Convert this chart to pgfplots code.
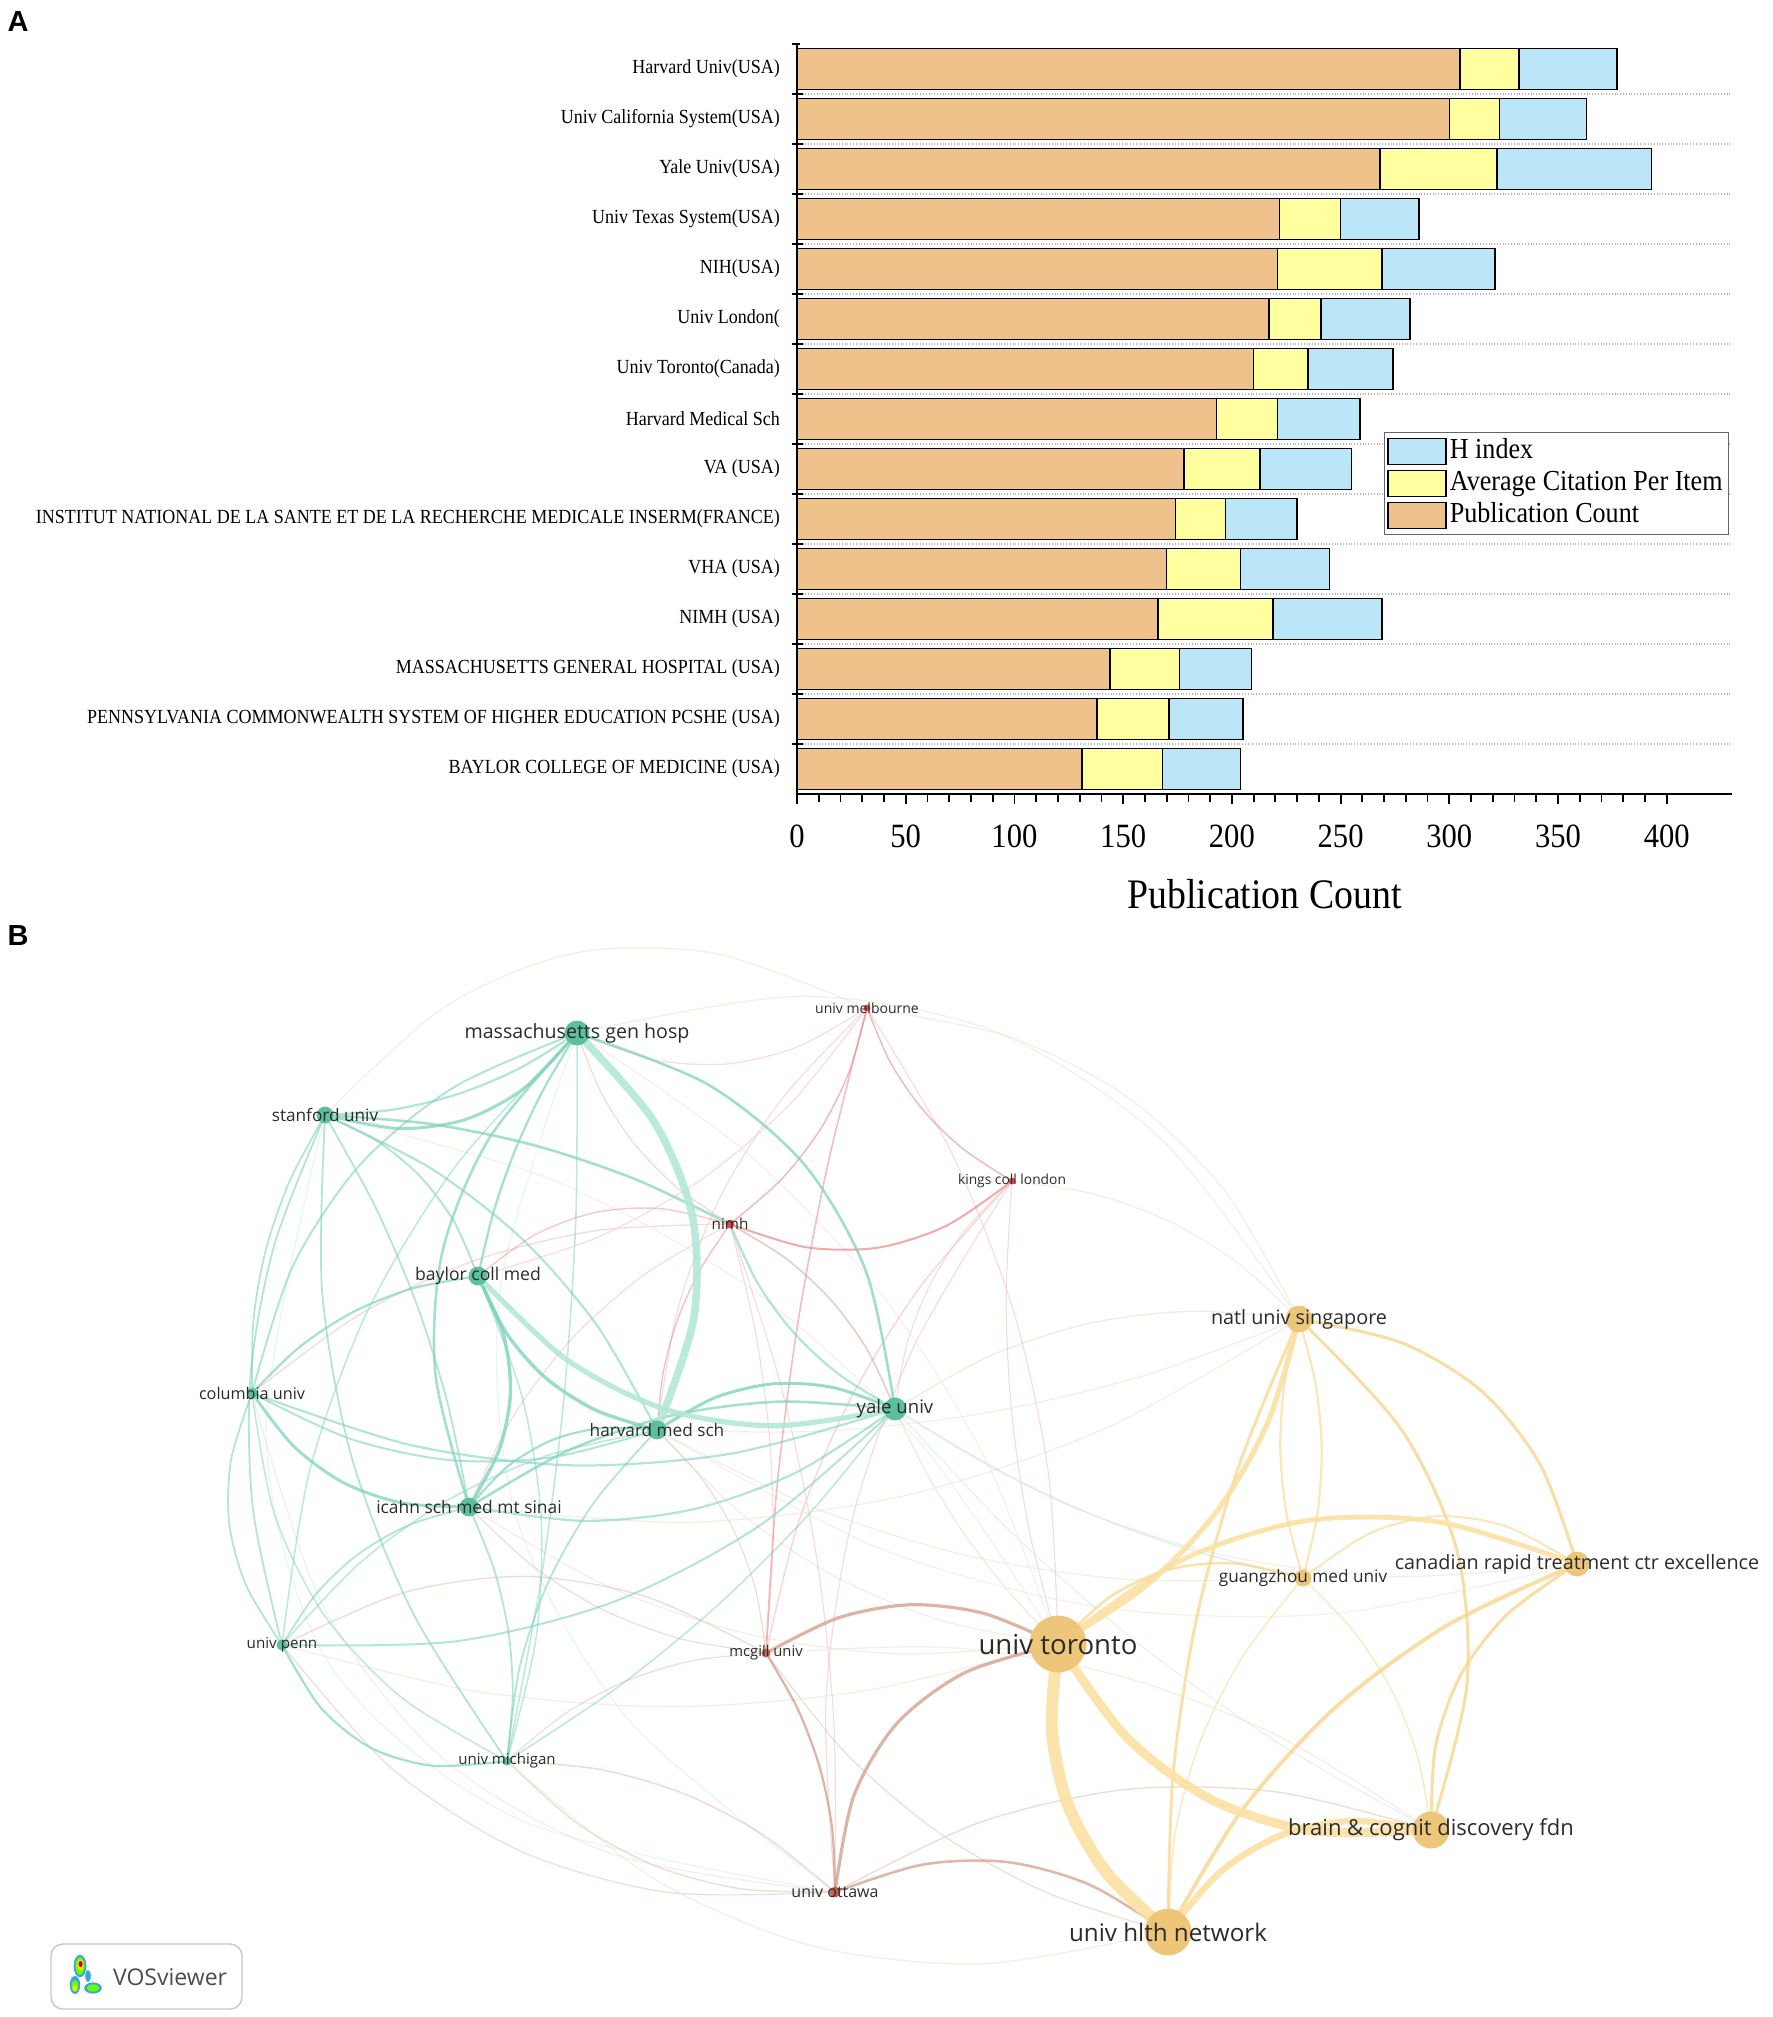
\documentclass[border=0pt]{standalone}
\usepackage{pgfplots}
\pgfplotsset{compat=1.18}
\usepackage{fontspec}
\setmainfont{Liberation Serif}
\newfontfamily\barfont[FakeStretch=0.9]{Liberation Serif}
\newfontfamily\netfont{Open Sans}
\newfontfamily\panelfont{Liberation Sans}

% bar colours
\definecolor{pubc}{HTML}{EEC28A}
\definecolor{avgc}{HTML}{FFFFA0}
\definecolor{hidx}{HTML}{BBE6F8}
% network colours
\definecolor{gN}{HTML}{5CBF9E}
\definecolor{gL}{HTML}{B2E8D8}
\definecolor{gM}{HTML}{7FD3B9}
\definecolor{gF}{HTML}{CDEEE4}
\definecolor{rN}{HTML}{E0424E}
\definecolor{rM}{HTML}{EB8585}
\definecolor{rF}{HTML}{F3C4C4}
\definecolor{bN}{HTML}{C86050}
\definecolor{bM}{HTML}{D29A86}
\definecolor{bF}{HTML}{E2C6B8}
\definecolor{yN}{HTML}{EEC67A}
\definecolor{yL}{HTML}{FBE0A2}
\definecolor{yM}{HTML}{F8D58C}
\definecolor{fE}{HTML}{ECE4D2}
\definecolor{lbl}{HTML}{2B2B2B}

% node positions (pixels of the original figure, y downwards)
\newcommand\setnode[3]{\expandafter\def\csname #1x\endcsname{#2}\expandafter\def\csname #1y\endcsname{#3}}
\setnode{MGH}{577}{1033}
\setnode{STA}{325}{1115}
\setnode{BCM}{478}{1276}
\setnode{COL}{252}{1393}
\setnode{HMS}{657}{1430}
\setnode{YAL}{895}{1409}
\setnode{ICA}{469}{1507}
\setnode{PEN}{282}{1645}
\setnode{MIC}{507}{1761}
\setnode{NIM}{730}{1224}
\setnode{MEL}{867}{1008}
\setnode{KCL}{1012}{1181}
\setnode{MCG}{766}{1653}
\setnode{OTT}{835}{1892}
\setnode{NUS}{1299}{1319}
\setnode{GZM}{1303}{1578}
\setnode{CRT}{1577}{1564}
\setnode{TOR}{1058}{1644}
\setnode{BCD}{1431}{1830}
\setnode{UHN}{1168}{1932}

% curved link (quadratic arc): from, to, bend, colour, width, opacity
\newcommand\edge[6]{%
  \edef\xa{\csname #1x\endcsname}\edef\ya{\csname #1y\endcsname}%
  \edef\xb{\csname #2x\endcsname}\edef\yb{\csname #2y\endcsname}%
  \pgfmathsetmacro\cx{(\xa+\xb)/2-2*(#3)*(\yb-\ya)}%
  \pgfmathsetmacro\cy{(\ya+\yb)/2+2*(#3)*(\xb-\xa)}%
  \pgfmathsetmacro\pax{0.5625*\xa+0.375*\cx+0.0625*\xb}%
  \pgfmathsetmacro\pay{0.5625*\ya+0.375*\cy+0.0625*\yb}%
  \pgfmathsetmacro\pbx{0.25*\xa+0.5*\cx+0.25*\xb}%
  \pgfmathsetmacro\pby{0.25*\ya+0.5*\cy+0.25*\yb}%
  \pgfmathsetmacro\pcx{0.0625*\xa+0.375*\cx+0.5625*\xb}%
  \pgfmathsetmacro\pcy{0.0625*\ya+0.375*\cy+0.5625*\yb}%
  \edef\doedge{\noexpand\addplot[smooth,no markers,draw=#4,line width=#5,draw opacity=#6,forget plot]
    coordinates {(\xa,\ya) (\pax,\pay) (\pbx,\pby) (\pcx,\pcy) (\xb,\yb)};}%
  \doedge}

% node with its label: code, radius, colour, font size, label
\newcommand\netnode[5]{%
  \edef\xa{\csname #1x\endcsname}\edef\ya{\csname #1y\endcsname}%
  \edef\donode{\noexpand\addplot[only marks,mark=*,mark size=#2,mark options={draw=#3,fill=#3},
    nodes near coords,point meta=explicit symbolic,
    every node near coord/.append style={anchor=center,inner sep=0pt,text=lbl,
      font=\noexpand\netfont\noexpand\fontsize{#4}{#4}\noexpand\selectfont}]
    coordinates {(\xa,\ya) [\unexpanded{#5}]};}%
  \donode}

\begin{document}
\begin{tikzpicture}
\path[use as bounding box] (0,0) rectangle (886pt,-1008.5pt);
\clip (0,0) rectangle (886pt,-1008.5pt);

% ---------------- panel B: co-authorship network
\begin{axis}[at={(0pt,0pt)}, anchor=north west, scale only axis,
  width=886pt, height=1008.5pt, xmin=0, xmax=1772, ymin=0, ymax=2017,
  y dir=reverse, hide axis, clip=false]
% faint links
\edge{STA}{OTT}{0.32}{gF}{0.6pt}{0.5}
\edge{MGH}{OTT}{0.22}{gF}{0.6pt}{0.5}
\edge{COL}{OTT}{0.2}{fE}{0.6pt}{0.6}
\edge{PEN}{OTT}{0.15}{bF}{0.6pt}{0.6}
\edge{MIC}{OTT}{0.12}{bF}{0.7pt}{0.6}
\edge{MIC}{UHN}{0.15}{fE}{0.6pt}{0.6}
\edge{PEN}{TOR}{0.08}{fE}{0.6pt}{0.6}
\edge{ICA}{TOR}{0.1}{fE}{0.6pt}{0.6}
\edge{HMS}{TOR}{0.1}{fE}{0.6pt}{0.6}
\edge{YAL}{TOR}{0.05}{fE}{0.7pt}{0.7}
\edge{YAL}{NUS}{-0.1}{fE}{0.7pt}{0.7}
\edge{YAL}{BCD}{0.05}{gF}{0.6pt}{0.6}
\edge{MGH}{NUS}{-0.2}{fE}{0.6pt}{0.6}
\edge{STA}{MEL}{-0.2}{fE}{0.6pt}{0.6}
\edge{MEL}{NUS}{-0.15}{fE}{0.6pt}{0.6}
\edge{MEL}{TOR}{-0.08}{rF}{0.6pt}{0.6}
\edge{KCL}{TOR}{0.05}{rF}{0.6pt}{0.6}
\edge{KCL}{OTT}{0.1}{rF}{0.6pt}{0.6}
\edge{KCL}{YAL}{0.1}{rF}{0.6pt}{0.6}
\edge{KCL}{NUS}{-0.1}{fE}{0.6pt}{0.6}
\edge{MEL}{HMS}{0.1}{rF}{0.6pt}{0.6}
\edge{MEL}{BCM}{-0.1}{rF}{0.6pt}{0.6}
\edge{MEL}{MGH}{-0.15}{rF}{0.6pt}{0.6}
\edge{NIM}{MCG}{-0.05}{rF}{0.6pt}{0.6}
\edge{NIM}{OTT}{-0.05}{rF}{0.6pt}{0.6}
\edge{NIM}{COL}{0.1}{rF}{0.7pt}{0.6}
\edge{NIM}{MGH}{-0.1}{rF}{0.7pt}{0.6}
\edge{NIM}{ICA}{0.1}{rF}{0.6pt}{0.6}
\edge{MCG}{ICA}{-0.1}{bF}{0.6pt}{0.6}
\edge{MCG}{PEN}{0.15}{bF}{0.7pt}{0.6}
\edge{MCG}{MIC}{0.1}{bF}{0.6pt}{0.6}
\edge{MCG}{HMS}{0.1}{bF}{0.6pt}{0.6}
\edge{MCG}{UHN}{0.1}{bF}{0.6pt}{0.6}
\edge{MCG}{BCD}{-0.1}{fE}{0.6pt}{0.6}
\edge{OTT}{BCD}{-0.12}{bF}{0.7pt}{0.6}
\edge{GZM}{YAL}{-0.05}{gF}{0.8pt}{0.7}
\edge{GZM}{HMS}{-0.08}{fE}{0.6pt}{0.6}
\edge{TOR}{MGH}{0.1}{fE}{0.6pt}{0.5}
\edge{TOR}{STA}{0.12}{fE}{0.6pt}{0.5}
\edge{NUS}{ICA}{-0.1}{fE}{0.6pt}{0.6}
\edge{CRT}{YAL}{-0.1}{fE}{0.6pt}{0.6}
\edge{CRT}{HMS}{-0.12}{fE}{0.6pt}{0.5}
\edge{NUS}{HMS}{-0.06}{fE}{0.6pt}{0.6}
% red and brown links
\edge{NIM}{KCL}{0.16}{rM}{1.0pt}{0.7}
\edge{NIM}{MEL}{0.1}{rM}{0.7pt}{0.6}
\edge{MEL}{KCL}{0.1}{rM}{0.7pt}{0.6}
\edge{MEL}{MCG}{0.03}{rM}{0.8pt}{0.55}
\edge{KCL}{MCG}{0.08}{rF}{0.7pt}{0.7}
\edge{NIM}{BCM}{0.15}{rM}{0.7pt}{0.45}
\edge{NIM}{HMS}{0.08}{rM}{0.7pt}{0.5}
\edge{NIM}{YAL}{-0.1}{bM}{0.8pt}{0.5}
\edge{MCG}{OTT}{-0.08}{bM}{1.1pt}{0.75}
\edge{MCG}{TOR}{-0.15}{bM}{1.6pt}{0.75}
\edge{OTT}{TOR}{-0.2}{bM}{1.6pt}{0.75}
\edge{OTT}{UHN}{-0.15}{bM}{1.3pt}{0.7}
\edge{OTT}{MIC}{0.1}{bF}{0.8pt}{0.6}
% green links
\edge{STA}{MGH}{0.08}{gM}{1.1pt}{0.6}
\edge{STA}{MGH}{0.18}{gM}{1.5pt}{0.75}
\edge{STA}{NIM}{-0.06}{gM}{1.3pt}{0.7}
\edge{STA}{HMS}{-0.1}{gM}{1.1pt}{0.6}
\edge{STA}{ICA}{-0.05}{gM}{0.9pt}{0.6}
\edge{STA}{COL}{0.08}{gM}{0.9pt}{0.6}
\edge{STA}{PEN}{0.1}{gM}{0.9pt}{0.6}
\edge{STA}{MIC}{0.1}{gM}{0.9pt}{0.6}
\edge{STA}{BCM}{-0.12}{gM}{1.0pt}{0.6}
\edge{MGH}{YAL}{-0.18}{gM}{1.3pt}{0.75}
\edge{MGH}{BCM}{0.05}{gM}{1.1pt}{0.7}
\edge{MGH}{ICA}{0.17}{gM}{1.3pt}{0.7}
\edge{MGH}{COL}{0.15}{gM}{1.0pt}{0.6}
\edge{MGH}{PEN}{0.1}{gM}{0.8pt}{0.5}
\edge{MGH}{MIC}{-0.03}{gM}{0.8pt}{0.5}
\edge{COL}{ICA}{0.15}{gM}{1.5pt}{0.75}
\edge{COL}{YAL}{0.1}{gM}{1.1pt}{0.6}
\edge{COL}{HMS}{0.12}{gM}{1.0pt}{0.6}
\edge{COL}{BCM}{-0.1}{gM}{1.1pt}{0.7}
\edge{COL}{PEN}{0.15}{gM}{0.9pt}{0.6}
\edge{COL}{MIC}{0.15}{gM}{0.8pt}{0.5}
\edge{ICA}{YAL}{-0.1}{gM}{1.3pt}{0.7}
\edge{ICA}{YAL}{0.12}{gM}{1.1pt}{0.6}
\edge{ICA}{HMS}{-0.15}{gM}{1.1pt}{0.7}
\edge{ICA}{PEN}{0.12}{gM}{0.9pt}{0.6}
\edge{ICA}{MIC}{-0.08}{gM}{0.9pt}{0.6}
\edge{PEN}{MIC}{0.2}{gM}{1.1pt}{0.7}
\edge{PEN}{YAL}{0.12}{gM}{1.0pt}{0.6}
\edge{PEN}{HMS}{-0.1}{gM}{0.8pt}{0.5}
\edge{MIC}{HMS}{-0.1}{gM}{0.9pt}{0.6}
\edge{MIC}{YAL}{0.05}{gM}{0.8pt}{0.5}
\edge{MIC}{BCM}{0.1}{gM}{0.8pt}{0.5}
\edge{NIM}{YAL}{0.1}{gM}{1.1pt}{0.6}
\edge{HMS}{YAL}{-0.15}{gM}{1.5pt}{0.8}
\edge{BCM}{HMS}{0.14}{gM}{1.7pt}{0.8}
\edge{BCM}{ICA}{-0.16}{gM}{1.7pt}{0.8}
\edge{BCM}{YAL}{0.16}{gL}{2.6pt}{0.9}
\edge{MGH}{HMS}{-0.19}{gL}{3.8pt}{0.9}
% yellow links
\edge{TOR}{GZM}{-0.17}{yM}{1.3pt}{0.7}
\edge{NUS}{GZM}{0.08}{yM}{1.1pt}{0.6}
\edge{NUS}{GZM}{-0.08}{yM}{1.1pt}{0.6}
\edge{GZM}{CRT}{-0.2}{yM}{1.0pt}{0.6}
\edge{GZM}{BCD}{-0.1}{yM}{0.8pt}{0.5}
\edge{GZM}{UHN}{0.1}{yM}{0.8pt}{0.5}
\edge{UHN}{NUS}{-0.06}{yM}{1.5pt}{0.75}
\edge{UHN}{CRT}{-0.1}{yM}{1.9pt}{0.8}
\edge{NUS}{CRT}{-0.18}{yM}{1.5pt}{0.8}
\edge{NUS}{BCD}{-0.18}{yM}{1.5pt}{0.8}
\edge{CRT}{BCD}{0.16}{yM}{1.5pt}{0.8}
\edge{TOR}{CRT}{-0.16}{yL}{2.4pt}{0.9}
\edge{TOR}{NUS}{0.12}{yL}{2.6pt}{0.9}
\edge{UHN}{BCD}{-0.175}{yL}{3.2pt}{0.9}
\edge{TOR}{BCD}{0.17}{yL}{4.5pt}{0.9}
\edge{TOR}{UHN}{0.156}{yL}{6pt}{0.9}
% nodes
\netnode{MEL}{1.5pt}{rN}{7}{univ melbourne}
\netnode{KCL}{1.5pt}{rN}{6.9}{kings coll london}
\netnode{NIM}{2pt}{rN}{7.6}{nimh}
\netnode{MCG}{2pt}{bN}{7.4}{mcgill univ}
\netnode{OTT}{2.5pt}{bN}{8}{univ ottawa}
\netnode{COL}{2.5pt}{gN}{8.1}{columbia univ}
\netnode{PEN}{2.5pt}{gN}{7.6}{univ penn}
\netnode{MIC}{2pt}{gN}{7.5}{univ michigan}
\netnode{STA}{4pt}{gN}{8.6}{stanford univ}
\netnode{BCM}{4.5pt}{gN}{8.8}{baylor coll med}
\netnode{HMS}{4.5pt}{gN}{8.6}{harvard med sch}
\netnode{ICA}{4.5pt}{gN}{8.7}{icahn sch med mt sinai}
\netnode{YAL}{5.5pt}{gN}{9.3}{yale univ}
\netnode{MGH}{6pt}{gN}{9.8}{massachusetts gen hosp}
\netnode{GZM}{4pt}{yN}{8.6}{guangzhou med univ}
\netnode{NUS}{6.5pt}{yN}{9.9}{natl univ singapore}
\netnode{CRT}{6pt}{yN}{9.9}{canadian rapid treatment ctr excellence}
\netnode{BCD}{9pt}{yN}{11}{brain \& cognit discovery fdn}
\netnode{UHN}{11.5pt}{yN}{12.1}{univ hlth network}
\netnode{TOR}{14pt}{yN}{13.8}{univ toronto}
\end{axis}

% ---------------- panel A: stacked bars
\begin{axis}[at={(398.5pt,-22pt)}, anchor=north west, scale only axis,
  width=467.5pt, height=375pt,
  xbar stacked, bar width=0.82,
  xmin=0, xmax=430, ymin=-0.5, ymax=14.5,
  axis lines=left, axis line style={-, line width=1pt},
  tick align=outside, major tick length=5pt, minor tick length=4pt,
  tick style={black, line width=0.9pt},
  xtick={0,50,...,400}, minor x tick num=4,
  ytick={0,...,14},
  minor ytick={14.5},
  major y tick style={draw=none},
  every minor y tick/.append style={xshift=1.5pt},
  extra y ticks={0.5,1.5,...,13.5}, extra y tick labels={},
  extra y tick style={grid=major, tick align=center, major tick length=5.5pt,
    major y tick style={draw=black, line width=0.9pt}},
  major grid style={densely dotted, black!28, line width=0.7pt},
  yticklabels={BAYLOR COLLEGE OF MEDICINE (USA),
    PENNSYLVANIA COMMONWEALTH SYSTEM OF HIGHER EDUCATION PCSHE (USA),
    MASSACHUSETTS GENERAL HOSPITAL (USA), NIMH (USA), VHA (USA),
    INSTITUT NATIONAL DE LA SANTE ET DE LA RECHERCHE MEDICALE INSERM(FRANCE),
    VA (USA), Harvard Medical Sch, Univ Toronto(Canada), Univ London(,
    NIH(USA), Univ Texas System(USA), Yale Univ(USA),
    Univ California System(USA), Harvard Univ(USA)},
  /pgf/number format/assume math mode=true,
  yticklabel style={font=\barfont\fontsize{10}{12}\selectfont},
  xticklabel style={font=\barfont\fontsize{17}{20}\selectfont, yshift=-7pt},
  xlabel={Publication Count},
  xlabel style={at={(axis description cs:0.5,0)}, anchor=center, yshift=-50pt,
    font=\barfont\fontsize{21}{24}\selectfont},
  legend image code/.code={\draw[#1] (0pt,-6.5pt) rectangle (29pt,6.5pt);},
  reverse legend, legend cell align=left,
  legend style={at={(0.997,0.483)}, anchor=north east, draw=black!60, line width=0.6pt,
    inner sep=1.5pt, row sep=0pt,
    font=\barfont\fontsize{14.5}{16}\selectfont,
    nodes={inner sep=1.5pt, text height=10pt, text depth=3pt}},
  every axis plot/.append style={draw=black, line width=0.75pt},
]
\addplot[fill=pubc] coordinates {
 (131,0) (138,1) (144,2) (166,3) (170,4) (174,5) (178,6) (193,7)
 (210,8) (217,9) (221,10) (222,11) (268,12) (300,13) (305,14)};
\addlegendentry{Publication Count}
\addplot[fill=avgc] coordinates {
 (37,0) (33,1) (32,2) (53,3) (34,4) (23,5) (35,6) (28,7)
 (25,8) (24,9) (48,10) (28,11) (54,12) (23,13) (27,14)};
\addlegendentry{Average Citation Per Item}
\addplot[fill=hidx] coordinates {
 (36,0) (34,1) (33,2) (50,3) (41,4) (33,5) (42,6) (38,7)
 (39,8) (41,9) (52,10) (36,11) (71,12) (40,13) (45,14)};
\addlegendentry{H index}
\end{axis}

% panel letters
\node[font=\panelfont\bfseries\fontsize{14.5}{16}\selectfont] at (9pt,-11pt) {A};
\node[font=\panelfont\bfseries\fontsize{14.5}{16}\selectfont] at (9pt,-468pt) {B};

% VOSviewer badge
\draw[black!22, line width=0.7pt, rounded corners=6pt, fill=white] (25.5pt,-972pt) rectangle (121pt,-1004.5pt);
\node[font=\netfont\fontsize{11.5}{12}\selectfont, text=black!70, anchor=west] at (53pt,-988.5pt) {VOSviewer};
\fill[cyan!80!blue!80] (40pt,-983pt) ellipse (3.2pt and 5.6pt);
\fill[cyan!80!blue!80] (37.5pt,-992.5pt) ellipse (2.6pt and 4.5pt);
\fill[cyan!80!blue!80] (46.5pt,-994pt) ellipse (4.4pt and 2.8pt);
\fill[cyan!80!blue!80] (44pt,-988pt) ellipse (1.4pt and 3pt);
\fill[green!60!yellow] (40pt,-983pt) ellipse (2.3pt and 4.4pt);
\fill[green!60!yellow] (37.5pt,-993pt) ellipse (1.7pt and 3pt);
\fill[green!60!yellow] (46.5pt,-994pt) ellipse (3.2pt and 1.8pt);
\fill[yellow!90!orange] (40.2pt,-982.5pt) ellipse (1.6pt and 2.8pt);
\fill[yellow!90!orange] (37.5pt,-994pt) ellipse (1pt and 1.6pt);
\fill[red!80!black] (40.3pt,-982pt) ellipse (1pt and 1.6pt);
\end{tikzpicture}
\end{document}
